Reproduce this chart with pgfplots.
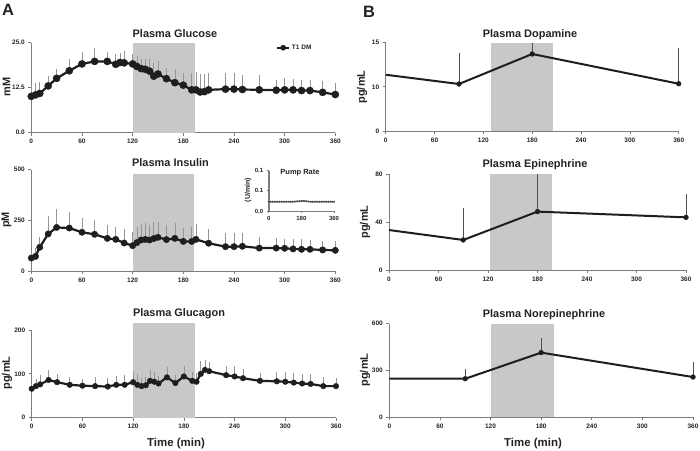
\documentclass[border=0pt]{standalone}
\usepackage{fontspec}
\setmainfont{Liberation Sans}
\usepackage{pgfplots}
\pgfplotsset{compat=1.18}
\definecolor{shadecol}{RGB}{200,200,200}
\definecolor{axgray}{RGB}{125,125,125}
\definecolor{errgray}{RGB}{150,150,150}
\definecolor{errdark}{RGB}{80,80,80}
\definecolor{linecol}{RGB}{30,30,30}
\definecolor{txt}{RGB}{35,35,35}
\pgfplotsset{
  base/.style={
    scale only axis, clip=false,
    axis lines*=left,
    axis line style={axgray, line width=0.8bp},
    tick style={axgray, line width=0.7bp},
    tick align=outside, major tick length=3bp,
    xmin=0, xmax=360, ymin=0,
    xtick={0,60,...,360},
    tick label style={font=\bfseries\fontsize{6.5}{7}\selectfont, text=txt},
    /pgf/number format/assume math mode=true,
    anchor=south west,
  },
  series/.style={linecol, line width=2.2bp, mark=*, mark size=#1,
     mark options={fill=linecol, draw=linecol, line width=0.4bp},
     error bars/.cd, y dir=plus, y explicit, error mark=none,
     error bar style={errgray, line width=0.7bp}},
  seriesB/.style={linecol, line width=2.0bp, mark=*, mark size=2.4bp,
     mark options={fill=linecol, draw=linecol, line width=0.4bp},
     mark indices={2,3,4},
     error bars/.cd, y dir=plus, y explicit, error mark=none,
     error bar style={errdark, line width=0.7bp}},
}
\pgfplotstableread{
t v e
0 10.1 3.1
5 10.5 3.2
10 10.9 3.1
20 13.0 2.8
30 15.1 2.7
45 17.2 3.2
60 19.1 3.4
75 19.8 3.6
90 19.8 2.7
100 19.0 2.9
105 19.5 2.7
110 19.4 3.3
120 19.1 2.8
125 18.4 2.9
130 17.8 2.8
135 17.6 2.8
140 17.1 3.5
145 15.7 3.6
150 16.3 3.5
160 15.0 3.1
170 13.9 3.7
180 13.2 3.3
190 11.9 4.8
195 11.9 5.0
200 11.3 5.0
205 11.4 4.9
210 11.9 4.8
230 12.1 4.6
240 12.1 4.6
250 12.0 4.0
270 11.9 4.1
290 11.8 2.8
300 11.9 3.2
310 11.9 3.0
320 11.7 2.9
330 11.7 2.9
345 11.2 3.2
360 10.6 3.3
}\glucose
\pgfplotstableread{
t v e
0 64 31
5 72 40
10 117 52
20 183 88
30 215 89
45 212 81
60 191 72
75 181 71
90 161 66
100 156 63
110 138 71
120 125 69
125 140 75
130 153 77
135 156 79
140 153 76
145 160 83
150 166 77
160 155 72
170 161 77
180 146 68
190 146 73
195 156 76
210 137 72
230 120 66
240 120 66
250 122 64
270 113 53
290 113 48
300 112 48
310 109 49
320 107 49
330 107 46
345 104 44
360 102 46
}\insulin
\pgfplotstableread{
t v e
0 66 11
5 72 16
10 76 21
20 86 23
30 81 19
45 75 17
60 73 15
75 72 20
90 71 19
100 75 20
110 75 22
120 81 26
125 75 25
130 72 18
135 74 18
140 84 25
145 82 23
150 78 18
160 92 23
170 79 18
180 94 25
190 84 21
195 82 19
200 100 29
205 109 23
210 106 21
230 97 21
240 94 25
250 90 21
270 84 19
290 83 21
300 82 22
310 80 21
320 78 22
330 77 23
345 72 20
360 72 18
}\glucagon
\pgfplotstableread{
t v
0 0.023
10 0.023
20 0.023
30 0.023
40 0.023
50 0.023
60 0.023
70 0.023
80 0.023
90 0.023
100 0.023
110 0.023
120 0.023
130 0.023
140 0.023
150 0.0235
160 0.024
170 0.024
180 0.0245
190 0.025
200 0.0245
210 0.024
220 0.0235
230 0.023
240 0.023
250 0.023
260 0.023
270 0.023
280 0.023
290 0.023
300 0.023
310 0.023
320 0.023
330 0.023
340 0.023
350 0.023
360 0.023
}\pump
\pgfplotstableread{
t v
0 11.37
90 10.32
180 13.72
360 10.35
}\dopamine
\pgfplotstableread{
t v e
0 33.4 0
90 25.1 26.5
180 48.8 31.2
360 44.0 19.6
}\epinephrine
\pgfplotstableread{
t v e
0 246 0
90 246 60
180 414 96
360 257 97
}\norepinephrine
\begin{document}
\begin{tikzpicture}[x=1bp,y=1bp]
\useasboundingbox (0,0) rectangle (700,451);
% ---------- Panel A ----------
\begin{axis}[base, at={(31.3bp,318.3bp)}, width=304bp, height=90bp, ymax=25,
  ytick={0,12.5,25}, yticklabels={0.0,12.5,25.0},
  legend style={draw=none, fill=none, at={(axis cs:290,23.6)}, anchor=west,
    font=\bfseries\fontsize{6.5}{7}\selectfont, text=txt, inner sep=0pt},
  legend image code/.code={\draw[mark repeat=2,mark phase=2,#1,mark size=2.6bp,line width=1.6bp] plot coordinates {(0bp,0bp) (6bp,0bp) (12bp,0bp)};}]
\fill[shadecol] (axis cs:120,0) rectangle (axis cs:194,25);
\addplot[series=3.6bp] table[x=t,y=v,y error=e] {\glucose};
\addlegendentry{T1 DM}
\end{axis}
\begin{axis}[base, at={(31.3bp,180bp)}, width=304bp, height=101.3bp, ymax=500,
  ytick={0,250,500}]
\fill[shadecol] (axis cs:120,0) rectangle (axis cs:193,477);
\addplot[series=3.2bp] table[x=t,y=v,y error=e] {\insulin};
\end{axis}
\begin{axis}[base, at={(268.7bp,240bp)}, width=65.3bp, height=40.3bp, ymax=0.1,
  xtick={0,180,360}, ytick={0,0.05,0.1}, yticklabels={0.0,0.1,0.1},
  axis line style={axgray, line width=0.8bp}, major tick length=2bp,
  tick label style={font=\bfseries\fontsize{6}{7}\selectfont, text=txt}]
\draw[axgray, line width=1.6bp] (axis cs:0,0) -- (axis cs:0,0.1);
\addplot[errdark, line width=0.6bp, mark=*, mark size=0.7bp] table[x=t,y=v] {\pump};
\end{axis}
\begin{axis}[base, at={(31.7bp,33.3bp)}, width=304.3bp, height=87.7bp, ymax=200,
  ytick={0,100,200}]
\fill[shadecol] (axis cs:120,0) rectangle (axis cs:193.5,215);
\addplot[series=2.8bp] table[x=t,y=v,y error=e] {\glucagon};
\end{axis}
% ---------- Panel B ----------
\begin{axis}[base, at={(385.7bp,320bp)}, width=293bp, height=88.3bp, ymax=15,
  ytick={0,10,15},
  y coord trafo/.code={\pgfmathparse{#1<10 ? 0.75*#1 : 7.5+1.5*(#1-10)}},
  y coord inv trafo/.code={\pgfmathparse{#1<7.5 ? #1/0.75 : 10+(#1-7.5)/1.5}}]
\fill[shadecol] (axis cs:129,0) rectangle (axis cs:206,15);
% upper error bars (mean to mean+SE)
\addplot[errdark, line width=0.7bp, forget plot] coordinates {(90,10.32) (90,13.82)};
\addplot[errdark, line width=0.7bp, forget plot] coordinates {(180,13.72) (180,15.0)};
\addplot[errdark, line width=0.7bp, forget plot] coordinates {(360,10.35) (360,14.4)};
\addplot[linecol, line width=2.0bp, mark=*, mark size=2.4bp,
     mark options={fill=linecol, draw=linecol, line width=0.4bp},
     mark indices={2,3,4}] table[x=t,y=v] {\dopamine};
\end{axis}
\begin{axis}[base, at={(389bp,181bp)}, width=297bp, height=95.7bp, ymax=80,
  ytick={0,40,80}]
\fill[shadecol] (axis cs:122,0) rectangle (axis cs:198,80);
\addplot[seriesB] table[x=t,y=v,y error=e] {\epinephrine};
\end{axis}
\begin{axis}[base, at={(389.3bp,34bp)}, width=303.7bp, height=93.3bp, ymax=600,
  ytick={0,300,600}]
\fill[shadecol] (axis cs:121,0) rectangle (axis cs:195,600);
\addplot[seriesB] table[x=t,y=v,y error=e] {\norepinephrine};
\end{axis}
% ---------- Texts ----------
\begin{scope}[every node/.style={text=txt, inner sep=0pt}]
\node[font=\bfseries\fontsize{16.5}{18}\selectfont] at (8,441) {A};
\node[font=\bfseries\fontsize{16.5}{18}\selectfont] at (369,439) {B};
\node[anchor=base, font=\bfseries\fontsize{11}{12}\selectfont] at (175,413.3) {Plasma Glucose};
\node[anchor=base, font=\bfseries\fontsize{11}{12}\selectfont] at (170.5,284.3) {Plasma Insulin};
\node[anchor=base, font=\bfseries\fontsize{11}{12}\selectfont] at (179,134) {Plasma Glucagon};
\node[anchor=base, font=\bfseries\fontsize{11}{12}\selectfont] at (530,413.3) {Plasma Dopamine};
\node[anchor=base, font=\bfseries\fontsize{11}{12}\selectfont] at (535,283.7) {Plasma Epinephrine};
\node[anchor=base, font=\bfseries\fontsize{11}{12}\selectfont] at (544,133.7) {Plasma Norepinephrine};
\node[rotate=90, font=\bfseries\fontsize{11}{12}\selectfont] at (6.5,364) {mM};
\node[rotate=90, font=\bfseries\fontsize{11}{12}\selectfont] at (6.5,231) {pM};
\node[rotate=90, font=\bfseries\fontsize{11}{12}\selectfont] at (7,78) {pg/mL};
\node[rotate=90, font=\bfseries\fontsize{11}{12}\selectfont] at (362,364) {pg/mL};
\node[rotate=90, font=\bfseries\fontsize{11}{12}\selectfont] at (365,229) {pg/mL};
\node[rotate=90, font=\bfseries\fontsize{11}{12}\selectfont] at (365,81) {pg/mL};
\node[anchor=base, font=\bfseries\fontsize{11.5}{12}\selectfont] at (176,4.3) {Time (min)};
\node[anchor=base, font=\bfseries\fontsize{11.5}{12}\selectfont] at (533,4.3) {Time (min)};
\node[font=\bfseries\fontsize{7.5}{8}\selectfont] at (300,278.3) {Pump Rate};
\node[rotate=90, font=\bfseries\fontsize{7}{8}\selectfont] at (248,261) {(U/min)};
\end{scope}
\end{tikzpicture}
\end{document}
